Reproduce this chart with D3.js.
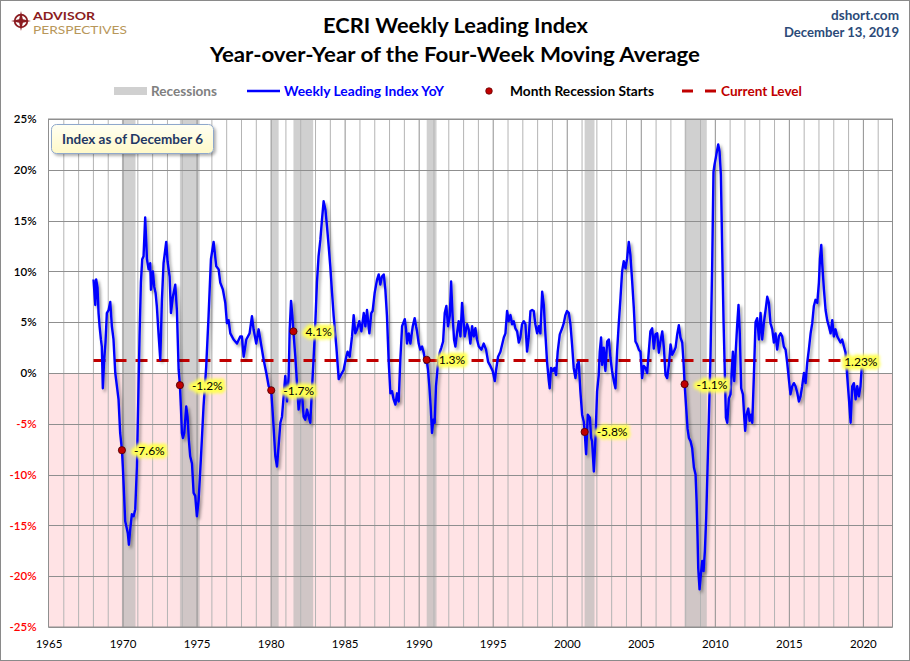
<!DOCTYPE html>
<html>
<head>
<meta charset="utf-8">
<script src="https://cdn.jsdelivr.net/npm/d3@7"></script>
<style>
  body { margin: 0; background: #fff; }
  svg { display: block; }
</style>
</head>
<body>
<svg id="chart" width="910" height="661"></svg>
<script>
// ---- data (decimal years, % YoY) ----
const weekDates = [
  1968.04, 1968.16, 1968.22, 1968.31, 1968.38, 1968.45, 1968.54, 1968.60, 1968.67, 1968.76, 1968.85, 1968.94,
  1969.06, 1969.17, 1969.28, 1969.39, 1969.51, 1969.62, 1969.73, 1969.84, 1969.96,
  1970.02, 1970.09, 1970.18, 1970.29, 1970.36, 1970.43, 1970.52, 1970.63, 1970.75, 1970.86, 1970.97,
  1971.08, 1971.15, 1971.24, 1971.33, 1971.42, 1971.53, 1971.65, 1971.76, 1971.87, 1971.92,
  1972.05, 1972.14, 1972.23, 1972.32, 1972.43, 1972.55, 1972.66, 1972.77, 1972.95,
  1973.04, 1973.18, 1973.27, 1973.40, 1973.56, 1973.67, 1973.79, 1973.875, 1973.94,
  1974.01, 1974.08, 1974.17, 1974.30, 1974.39, 1974.48, 1974.57, 1974.69, 1974.80, 1974.91,
  1975.02, 1975.14, 1975.29, 1975.47, 1975.65, 1975.81, 1975.97,
  1976.15, 1976.33, 1976.49, 1976.60, 1976.78, 1976.94,
  1977.05, 1977.16, 1977.28, 1977.50, 1977.73, 1977.95,
  1978.06, 1978.18, 1978.36, 1978.58, 1978.74, 1978.85,
  1979.03, 1979.19, 1979.35, 1979.53, 1979.71, 1979.87,
  1980.04, 1980.16, 1980.32, 1980.43, 1980.54, 1980.66, 1980.77, 1980.88, 1980.99,
  1981.11, 1981.22, 1981.29, 1981.38, 1981.47, 1981.54, 1981.67, 1981.78, 1981.89,
  1982.01, 1982.12, 1982.23, 1982.34, 1982.46, 1982.57, 1982.68, 1982.79, 1982.91,
  1983.02, 1983.13, 1983.24, 1983.36, 1983.47, 1983.58, 1983.70, 1983.81, 1983.92,
  1984.03, 1984.15, 1984.26, 1984.44, 1984.60, 1984.71, 1984.82, 1984.93,
  1985.11, 1985.20, 1985.34, 1985.50, 1985.61, 1985.72, 1985.84, 1985.99,
  1986.13, 1986.29, 1986.40, 1986.51, 1986.67, 1986.80, 1986.89,
  1987.03, 1987.19, 1987.30, 1987.41, 1987.52, 1987.64, 1987.75, 1987.86, 1987.97,
  1988.09, 1988.20, 1988.31, 1988.43, 1988.54, 1988.65, 1988.76, 1988.88,
  1989.06, 1989.15, 1989.21, 1989.33, 1989.44, 1989.60, 1989.73, 1989.82, 1989.89,
  1990.00, 1990.11, 1990.23, 1990.34, 1990.45, 1990.54, 1990.63, 1990.72, 1990.81, 1990.90, 1990.99,
  1991.08, 1991.17, 1991.29, 1991.42, 1991.53, 1991.65, 1991.76, 1991.87, 1991.98,
  1992.10, 1992.19, 1992.28, 1992.39, 1992.48, 1992.59, 1992.70, 1992.82, 1992.93,
  1993.04, 1993.11, 1993.27, 1993.38, 1993.49, 1993.61, 1993.72, 1993.83, 1993.94,
  1994.06, 1994.24, 1994.39, 1994.55, 1994.69, 1994.84,
  1995.00, 1995.14, 1995.23, 1995.36, 1995.52, 1995.75, 1995.86, 1995.97,
  1996.08, 1996.20, 1996.31, 1996.42, 1996.53, 1996.65, 1996.76, 1996.87, 1996.98,
  1997.10, 1997.21, 1997.32, 1997.43, 1997.55, 1997.66, 1997.77, 1997.88,
  1998.00, 1998.11, 1998.22, 1998.34, 1998.45, 1998.56, 1998.67, 1998.79, 1998.85, 1998.94,
  1999.06, 1999.17, 1999.28, 1999.39, 1999.53, 1999.69, 1999.80, 1999.91,
  2000.02, 2000.14, 2000.25, 2000.36, 2000.47, 2000.59, 2000.70, 2000.81, 2000.92,
  2001.04, 2001.15, 2001.21, 2001.31, 2001.42, 2001.56, 2001.65, 2001.71, 2001.83, 2001.94,
  2002.05, 2002.16, 2002.23, 2002.32, 2002.39, 2002.50, 2002.61, 2002.73, 2002.84, 2002.95,
  2003.06, 2003.18, 2003.29, 2003.40, 2003.51, 2003.63, 2003.74, 2003.85, 2003.97,
  2004.08, 2004.19, 2004.30, 2004.42, 2004.53, 2004.64, 2004.75, 2004.87, 2004.98,
  2005.09, 2005.20, 2005.32, 2005.43, 2005.54, 2005.65, 2005.77, 2005.88, 2005.99,
  2006.11, 2006.22, 2006.33, 2006.45, 2006.56, 2006.67, 2006.78, 2006.90,
  2007.01, 2007.12, 2007.23, 2007.35, 2007.46, 2007.57, 2007.68, 2007.80, 2007.89, 2007.96,
  2008.07, 2008.16, 2008.25, 2008.36, 2008.47, 2008.59, 2008.70, 2008.77, 2008.83, 2008.88, 2008.97,
  2009.06, 2009.15, 2009.24, 2009.33, 2009.42, 2009.51, 2009.60, 2009.71, 2009.82, 2009.91, 2009.98,
  2010.07, 2010.14, 2010.23, 2010.32, 2010.41, 2010.50, 2010.59, 2010.68, 2010.75, 2010.84, 2010.95,
  2011.06, 2011.13, 2011.22, 2011.31, 2011.40, 2011.51, 2011.60, 2011.69, 2011.78, 2011.90, 2011.99,
  2012.05, 2012.14, 2012.26, 2012.35, 2012.44, 2012.53, 2012.64, 2012.75, 2012.86, 2012.98,
  2013.09, 2013.20, 2013.31, 2013.43, 2013.54, 2013.65, 2013.76, 2013.88, 2013.99,
  2014.10, 2014.21, 2014.33, 2014.44, 2014.55, 2014.66, 2014.78, 2014.89,
  2015.00, 2015.11, 2015.23, 2015.34, 2015.45, 2015.56, 2015.68, 2015.79, 2015.90,
  2016.02, 2016.13, 2016.24, 2016.35, 2016.47, 2016.58, 2016.69, 2016.80, 2016.92,
  2017.03, 2017.10, 2017.19, 2017.25, 2017.37, 2017.48, 2017.59, 2017.70, 2017.82, 2017.93,
  2018.04, 2018.15, 2018.27, 2018.38, 2018.49, 2018.60, 2018.72, 2018.83, 2018.94,
  2019.06, 2019.17, 2019.28, 2019.39, 2019.51, 2019.62, 2019.73, 2019.84, 2019.95
]

const yoyValues = [
  9.2, 6.7, 9.2, 8.4, 5.9, 4.6, 3.3, 2.6, -1.5, 1.3, 3.0, 5.9,
  6.2, 7.0, 4.6, 3.3, 0.0, -1.3, -2.6, -5.9, -7.6,
  -9.2, -11.5, -14.6, -15.3, -15.8, -16.9, -15.4, -13.9, -14.1, -13.4, -9.2,
  -1.3, 3.6, 8.9, 11.2, 11.5, 15.3, 11.2, 10.2, 10.8, 8.2,
  10.0, 8.5, 7.9, 6.5, 3.9, 1.3, 7.2, 10.8, 12.9,
  11.0, 9.5, 5.9, 7.5, 8.7, 6.2, 0.3, -1.2, -3.3,
  -5.9, -6.4, -5.9, -3.3, -4.3, -6.6, -8.2, -8.9, -11.8, -12.1,
  -14.1, -12.5, -8.5, -3.3, 0.6, 5.6, 11.2,
  12.9, 10.5, 10.2, 8.9, 8.2, 6.9,
  4.9, 5.2, 3.9, 3.3, 2.9, 3.6,
  3.6, 1.6, 3.3, 3.9, 5.6, 4.3,
  2.9, 4.3, 2.9, 1.3, 0.0, -1.3,
  -1.7, -4.3, -8.2, -9.2, -7.2, -4.9, -4.3, -2.3, -0.3,
  -2.8, -0.3, 4.3, 7.1, 5.6, 4.1, 1.6, -1.0, -3.6,
  -2.3, -2.0, -4.3, -4.6, -3.6, -4.3, -4.9, -1.7, 1.6,
  4.9, 8.9, 11.5, 13.1, 15.1, 16.9, 16.1, 14.4, 12.5,
  10.5, 7.9, 5.6, 2.6, -0.6, -0.3, 0.0, 0.3,
  1.6, 2.1, 1.6, 3.6, 5.7, 3.9, 4.3, 5.1,
  4.1, 5.9, 4.6, 6.2, 3.9, 5.9, 6.1,
  7.9, 9.2, 9.7, 8.7, 9.5, 9.7, 8.2, 5.6, 1.3,
  -2.0, -1.8, -2.6, -3.1, -2.0, -2.8, 1.3, 4.6,
  5.3, 4.3, 2.9, 3.9, 2.9, 4.6, 5.4, 4.6, 4.1,
  2.9, 2.3, 2.6, 2.0, 1.0, 1.3, 0.3, -1.3, -3.3, -5.9, -4.6,
  -4.9, -1.3, 0.7, 2.0, 2.5, 3.1, 5.9, 6.6, 4.6,
  5.6, 9.0, 5.9, 3.3, 2.6, 3.9, 5.1, 3.6, 6.9,
  4.9, 3.6, 4.8, 4.3, 2.9, 4.6, 3.6, 4.4, 3.3,
  2.6, 2.3, 2.9, 2.3, 1.1, 0.7,
  0.2, -0.8, 0.3, 1.6, 2.1, 3.5, 3.9, 6.1,
  5.1, 5.7, 4.8, 5.1, 4.4, 4.1, 3.0, 3.5, 4.8,
  5.1, 4.8, 2.1, 3.5, 6.1, 6.2, 6.1, 4.8,
  3.9, 4.6, 3.9, 8.0, 6.7, 3.8, 1.1, -0.8, -1.5, 0.5,
  0.2, 0.5, -0.2, 2.1, 3.8, 4.4, 4.9, 5.7,
  6.1, 5.9, 4.8, 2.8, 0.5, -0.5, 0.8, 1.1, -1.8,
  -4.1, -4.8, -5.8, -8.0, -4.1, -4.4, -6.4, -6.7, -9.7, -6.4,
  -1.8, -0.2, 2.1, 3.5, 0.8, 2.5, 0.2, 3.1, 3.3, 1.5,
  0.2, -0.8, -1.5, 2.1, 4.8, 7.4, 10.0, 11.0, 10.3,
  11.3, 12.9, 11.6, 9.0, 6.4, 3.1, 2.8, 2.3, 2.1,
  -0.5, 0.7, 0.5, 0.0, 2.1, 4.1, 4.4, 2.4, 3.8,
  3.9, 2.0, 3.1, 4.1, 2.5, -0.2, -0.5, 0.8,
  2.8, 1.8, 2.1, 2.5, 3.8, 4.7, 3.5, 3.0, 1.0, -1.1,
  -3.5, -5.5, -6.4, -6.7, -7.4, -9.3, -10.0, -12.6, -15.9, -19.2, -21.3,
  -19.8, -18.5, -19.5, -17.5, -14.2, -9.3, -4.4, 1.8, 10.4, 19.8, 20.5,
  21.2, 21.8, 22.5, 21.8, 19.5, 12.0, 5.1, -0.2, -4.4, -4.9, -2.5,
  -2.1, -0.2, 2.1, -0.8, 1.8, 4.7, 6.7, 3.8, -1.5, -2.1, -4.4,
  -5.7, -4.1, -3.5, -4.7, -4.1, -4.9, -0.2, 5.0, 5.4, 3.3,
  5.9, 3.3, 4.9, 6.2, 7.5, 6.9, 4.9, 4.3, 3.0,
  3.9, 2.3, 3.6, 3.9, 3.6, 2.6, 2.3, 1.0,
  -0.6, -2.1, -1.3, -1.0, -1.3, -1.9, -2.8, -2.3, -1.3,
  0.0, -1.0, 1.0, 2.3, 3.9, 4.9, 6.6, 7.2, 6.9,
  8.9, 11.2, 12.6, 10.8, 8.2, 6.2, 5.2, 4.6, 3.9, 5.2,
  3.6, 4.3, 3.6, 3.3, 3.0, 3.3, 2.6, 2.0, -0.3,
  -2.6, -4.9, -1.3, -1.0, -2.6, -1.3, -2.3, -1.3, 1.23
]

// NBER recessions, first and last month
const recessionStart = ["1969-12", "1973-11", "1980-01", "1981-07", "1990-07", "2001-03", "2007-12"]
const recessionEnd   = ["1970-11", "1975-03", "1980-07", "1982-11", "1991-03", "2001-11", "2009-06"]
// YoY value in the month each recession started
const startValues = [-7.6, -1.2, -1.7, 4.1, 1.3, -5.8, -1.1]

const currentLevel = 1.23
const yTicks = [-25, -20, -15, -10, -5, 0, 5, 10, 15, 20, 25]
const xTicks = [1965, 1970, 1975, 1980, 1985, 1990, 1995, 2000, 2005, 2010, 2015, 2020]
const gridYears = d3.range(1966, 2022)

// month string -> decimal year, middle of the month
function monthToYear(s) {
    var p = s.split("-").map(Number)
    return p[0] + (p[1] - 0.5) / 12
}

const W = 910, H = 661
const plot = {left: 48.5, right: 892.5, top: 119, bottom: 627}
const FONT = "Lato, 'Open Sans', sans-serif"

const svg = d3.select("#chart")
const defs = svg.append("defs")

// shadows and glows
defs.append("filter").attr("id", "lineShadow")
    .attr("x", "-5%").attr("y", "-5%").attr("width", "110%").attr("height", "110%")
    .append("feDropShadow")
    .attr("dx", 2).attr("dy", 2.5).attr("stdDeviation", 1.4)
    .attr("flood-color", "#000").attr("flood-opacity", 0.38)

defs.append("filter").attr("id", "glow")
    .attr("x", "-30%").attr("y", "-60%").attr("width", "160%").attr("height", "220%")
    .append("feGaussianBlur").attr("stdDeviation", 1.6)

defs.append("filter").attr("id", "boxShadow")
    .attr("x", "-10%").attr("y", "-20%").attr("width", "130%").attr("height", "160%")
    .append("feDropShadow")
    .attr("dx", 2).attr("dy", 2).attr("stdDeviation", 1.5)
    .attr("flood-color", "#000").attr("flood-opacity", 0.3)

const boxGrad = defs.append("linearGradient").attr("id", "boxGrad")
    .attr("x1", 0).attr("y1", 0).attr("x2", 0).attr("y2", 1)
boxGrad.append("stop").attr("offset", "0%").attr("stop-color", "#FFFFF2")
boxGrad.append("stop").attr("offset", "100%").attr("stop-color", "#FFF9C8")

// background + outer border
svg.append("rect")
    .attr("x", 0.5).attr("y", 0.5).attr("width", W - 1).attr("height", H - 1)
    .attr("fill", "#fff").attr("stroke", "#8a8a8a")

// ---- logo ----
var logo = svg.append("g").attr("transform", "translate(21,21)")
logo.append("circle").attr("r", 6.3)
    .attr("fill", "none").attr("stroke", "#8B1C21").attr("stroke-width", 1.8)
var starPts = d3.range(8).map(function (i) {
    var a = i * Math.PI / 4 - Math.PI / 2
    var r = i % 2 === 0 ? 10 : 2.6
    return [r * Math.cos(a), r * Math.sin(a)]
})
logo.append("path").attr("d", d3.line()(starPts) + "Z").attr("fill", "#8B1C21")

svg.append("text").attr("x", 33).attr("y", 19.8)
    .attr("font-family", FONT).attr("font-weight", "bold").attr("font-size", 11.5)
    .attr("fill", "#8B1C21").attr("textLength", 62).attr("lengthAdjust", "spacingAndGlyphs")
    .text("ADVISOR")
svg.append("text").attr("x", 33).attr("y", 33.6)
    .attr("font-family", FONT).attr("font-size", 11.5)
    .attr("fill", "#B8975A").attr("textLength", 94).attr("lengthAdjust", "spacingAndGlyphs")
    .text("PERSPECTIVES")

// ---- titles ----
svg.append("text").attr("x", 323).attr("y", 33)
    .attr("font-family", FONT).attr("font-weight", "bold").attr("font-size", 21)
    .attr("fill", "#000").attr("textLength", 265).attr("lengthAdjust", "spacingAndGlyphs")
    .text("ECRI Weekly Leading Index")
svg.append("text").attr("x", 210).attr("y", 62)
    .attr("font-family", FONT).attr("font-weight", "bold").attr("font-size", 21)
    .attr("fill", "#000").attr("textLength", 490).attr("lengthAdjust", "spacingAndGlyphs")
    .text("Year-over-Year of the Four-Week Moving Average")

svg.append("text").attr("x", 899).attr("y", 19.5).attr("text-anchor", "end")
    .attr("font-family", FONT).attr("font-weight", "bold").attr("font-size", 13)
    .attr("fill", "#2B4A78").attr("textLength", 68).attr("lengthAdjust", "spacingAndGlyphs")
    .text("dshort.com")
svg.append("text").attr("x", 899).attr("y", 37).attr("text-anchor", "end")
    .attr("font-family", FONT).attr("font-weight", "bold").attr("font-size", 13)
    .attr("fill", "#2B4A78").attr("textLength", 115).attr("lengthAdjust", "spacingAndGlyphs")
    .text("December 13, 2019")

// ---- legend ----
var lg = svg.append("g").attr("font-family", FONT).attr("font-weight", "bold").attr("font-size", 13)
lg.append("rect").attr("x", 114).attr("y", 87).attr("width", 33).attr("height", 8).attr("fill", "#D0D0D0")
lg.append("text").attr("x", 151).attr("y", 95.5).attr("fill", "#808080")
    .attr("textLength", 66).attr("lengthAdjust", "spacingAndGlyphs").text("Recessions")
lg.append("line").attr("x1", 247).attr("x2", 280).attr("y1", 91).attr("y2", 91)
    .attr("stroke", "#0000FF").attr("stroke-width", 2.5)
lg.append("text").attr("x", 284).attr("y", 95.5).attr("fill", "#0000FF")
    .attr("textLength", 160).attr("lengthAdjust", "spacingAndGlyphs").text("Weekly Leading Index YoY")
lg.append("circle").attr("cx", 489).attr("cy", 91).attr("r", 3.3)
    .attr("fill", "#C00000").attr("stroke", "#5A0000").attr("stroke-width", 0.7)
lg.append("text").attr("x", 510).attr("y", 95.5).attr("fill", "#000")
    .attr("textLength", 144).attr("lengthAdjust", "spacingAndGlyphs").text("Month Recession Starts")
lg.append("line").attr("x1", 682).attr("x2", 716).attr("y1", 91).attr("y2", 91)
    .attr("stroke", "#C00000").attr("stroke-width", 3).attr("stroke-dasharray", "11,12")
lg.append("text").attr("x", 721).attr("y", 95.5).attr("fill", "#C00000")
    .attr("textLength", 81).attr("lengthAdjust", "spacingAndGlyphs").text("Current Level")

// ---- scales ----
const x = d3.scaleLinear().domain([1965, 2022]).range([plot.left, plot.right])
const y = d3.scaleLinear().domain([-25, 25]).range([plot.bottom, plot.top])

const g = svg.append("g")

// pink zone below zero
g.append("rect")
    .attr("x", plot.left).attr("y", y(0))
    .attr("width", plot.right - plot.left).attr("height", y(-25) - y(0))
    .attr("fill", "#FFE3E5")

// recession bands
g.selectAll(".band")
    .data(d3.zip(recessionStart, recessionEnd))
    .enter().append("rect")
    .attr("class", "band")
    .attr("x", d => x(monthToYear(d[0])))
    .attr("width", d => x(monthToYear(d[1])) - x(monthToYear(d[0])))
    .attr("y", plot.top).attr("height", plot.bottom - plot.top)
    .attr("fill", "#B4B4B4").attr("opacity", 0.63)

// vertical grid, yearly with darker 5-year lines
g.selectAll(".vgrid")
    .data(gridYears)
    .enter().append("line")
    .attr("x1", d => x(d) + 0.5).attr("x2", d => x(d) + 0.5)
    .attr("y1", plot.top).attr("y2", plot.bottom)
    .attr("stroke", d => d % 5 === 0 ? "#8F8F8F" : "#B4B4B4")
    .attr("stroke-width", 1)

// horizontal grid
g.selectAll(".hgrid")
    .data(yTicks)
    .enter().append("line")
    .attr("x1", plot.left).attr("x2", plot.right)
    .attr("y1", d => Math.round(y(d)) + 0.5).attr("y2", d => Math.round(y(d)) + 0.5)
    .attr("stroke", "#8F8F8F").attr("stroke-width", 1)

g.append("rect")
    .attr("x", plot.left).attr("y", plot.top)
    .attr("width", plot.right - plot.left).attr("height", plot.bottom - plot.top)
    .attr("fill", "none").attr("stroke", "#8F8F8F")

// axes (labels only)
var yAxis = svg.append("g")
    .attr("transform", "translate(" + plot.left + ",0)")
    .call(d3.axisLeft(y).tickValues(yTicks).tickFormat(d => d + "%").tickSize(0).tickPadding(12))
yAxis.select(".domain").remove()
yAxis.selectAll("text")
    .attr("font-family", FONT).attr("font-size", 11.5).attr("font-weight", 600)
    .attr("fill", d => d < 0 ? "#FF0000" : "#000")

var xAxis = svg.append("g")
    .attr("transform", "translate(0," + plot.bottom + ")")
    .call(d3.axisBottom(x).tickValues(xTicks).tickFormat(d3.format("d")).tickSize(0).tickPadding(13))
xAxis.select(".domain").remove()
xAxis.selectAll("text")
    .attr("font-family", FONT).attr("font-size", 11.5).attr("fill", "#000")

// current level dashed line
g.append("line")
    .attr("x1", x(weekDates[0])).attr("x2", x(weekDates[weekDates.length - 1]))
    .attr("y1", y(currentLevel)).attr("y2", y(currentLevel))
    .attr("stroke", "#C00000").attr("stroke-width", 3)
    .attr("stroke-dasharray", "12,9")

// the series
const series = d3.zip(weekDates, yoyValues)
g.append("path")
    .datum(series)
    .attr("fill", "none")
    .attr("stroke", "#0000FF")
    .attr("stroke-width", 2.4)
    .attr("stroke-linejoin", "round")
    .attr("filter", "url(#lineShadow)")
    .attr("d", d3.line().x(d => x(d[0])).y(d => y(d[1])))

// highlighted label helper
function glowLabel(px, py, txt) {
    var lab = svg.append("g").attr("font-family", FONT).attr("font-size", 12)
    lab.append("text").attr("x", px).attr("y", py)
        .attr("fill", "#FFFF55").attr("stroke", "#FFFF55").attr("stroke-width", 7)
        .attr("stroke-linejoin", "round").attr("filter", "url(#glow)")
        .text(txt)
    lab.append("text").attr("x", px).attr("y", py).attr("fill", "#000").text(txt)
}

// recession start dots
const starts = d3.zip(recessionStart, startValues)
starts.forEach(function (d) {
    glowLabel(x(monthToYear(d[0])) + 12, y(d[1]) + 4.5, d[1].toFixed(1) + "%")
})
svg.selectAll(".startDot")
    .data(starts)
    .enter().append("circle")
    .attr("cx", d => x(monthToYear(d[0])))
    .attr("cy", d => y(d[1]))
    .attr("r", 3.6)
    .attr("fill", "#C00000").attr("stroke", "#4A0000").attr("stroke-width", 0.8)

glowLabel(x(weekDates[weekDates.length - 1]) - 18, y(currentLevel) + 5, currentLevel + "%")

// ---- "Index as of" box ----
svg.append("rect")
    .attr("x", 51.5).attr("y", 124.5).attr("width", 162).attr("height", 29).attr("rx", 5)
    .attr("fill", "url(#boxGrad)").attr("stroke", "#8FA8CC").attr("stroke-width", 1)
    .attr("filter", "url(#boxShadow)")
svg.append("text").attr("x", 62).attr("y", 143.5)
    .attr("font-family", FONT).attr("font-weight", "bold").attr("font-size", 13)
    .attr("fill", "#1F3864").attr("textLength", 141).attr("lengthAdjust", "spacingAndGlyphs")
    .text("Index as of December 6")
</script>
</body>
</html>
